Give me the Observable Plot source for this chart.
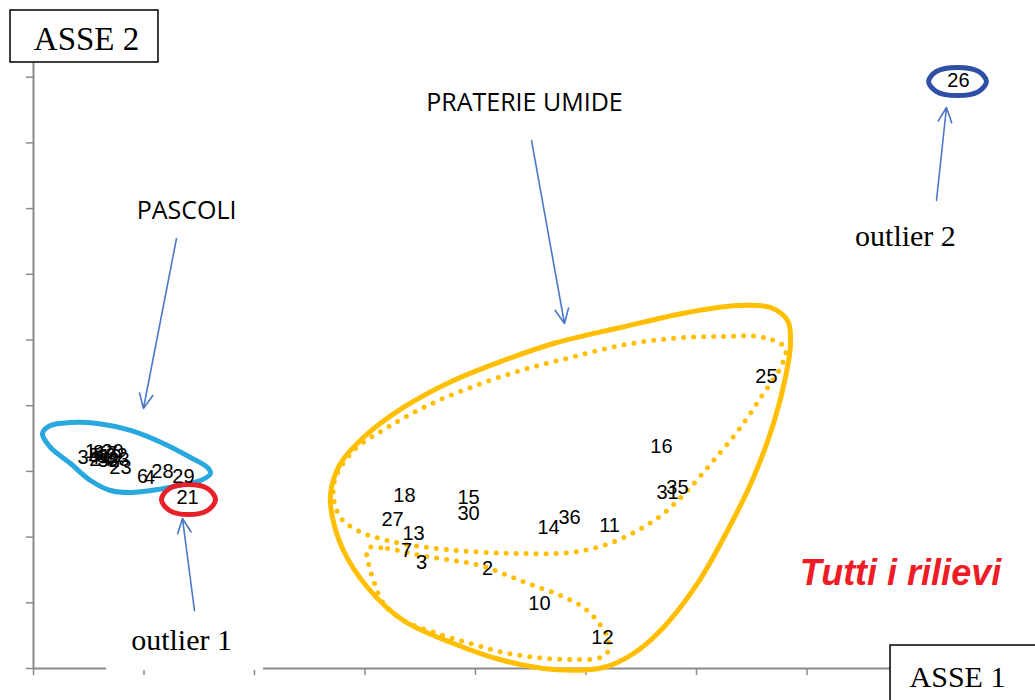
<!DOCTYPE html>
<html>
<head>
<meta charset="utf-8">
<script src="https://cdn.jsdelivr.net/npm/d3@7"></script>
<script src="https://cdn.jsdelivr.net/npm/@observablehq/plot@0.6"></script>
<style>
  html, body { margin: 0; padding: 0; background: #fff; }
  #chart svg { display: block; }
</style>
</head>
<body>
<div id="chart"></div>
<script>
// ---- Data: relevé numbers and their scores on axis 1 / axis 2 ----
const releveLabels = ["1","5","8","9","17","19","20","22","24","32","33","34","23",
  "6","4","28","29","21",
  "18","15","30","27","13","7","3","2","14","36","11","10","12","16","31","35","25","26"];
const asse1 = [0.516,0.552,0.588,0.624,0.661,0.697,0.715,0.751,0.606,0.679,0.769,0.498,0.787,
  0.986,1.050,1.167,1.357,1.394,
  3.357,3.937,3.937,3.249,3.439,3.376,3.511,4.109,4.661,4.851,5.213,4.579,5.149,5.683,5.738,5.828,6.633,8.371];
const asse2 = [3.303,3.242,3.288,3.227,3.272,3.227,3.303,3.242,3.181,3.166,3.181,3.212,3.059,
  2.922,2.907,2.998,2.922,2.603,
  2.633,2.603,2.359,2.268,2.055,1.796,1.613,1.522,2.146,2.298,2.177,0.989,0.472,3.379,2.679,2.755,4.444,8.950];

const xTicks = [0,1,2,3,4,5,6,7,8];
const yTicks = [0,1,2,3,4,5,6,7,8,9];

// ---- Hand-drawn annotation shapes (axis units) ----
const praterieSolidX = [2.688,2.778,2.986,3.348,3.801,4.253,4.706,5.312,5.919,6.371,6.670,6.824,6.851,6.805,6.697,6.516,6.281,6.009,5.701,5.430,5.158,4.706,4.253,3.801,3.348,3.023,2.805,2.706];
const praterieSolidY = [2.664,3.120,3.516,3.973,4.384,4.688,4.947,5.190,5.419,5.525,5.495,5.297,4.947,4.429,3.729,2.907,2.100,1.294,0.624,0.228,0.015,-0.015,0.122,0.381,0.731,1.233,1.796,2.298];
const dotLoopAX = [6.805,6.606,6.217,5.765,5.312,4.860,4.407,3.955,3.566,3.204,2.896,2.733,2.715,2.778,2.932,3.204,3.566,3.955,4.407,4.860,5.158,5.466,5.701,5.919,6.154,6.398,6.606,6.760];
const dotLoopAY = [4.871,5.038,5.053,5.023,4.916,4.734,4.536,4.277,4.003,3.668,3.318,2.907,2.603,2.298,2.100,1.948,1.842,1.781,1.750,1.766,1.872,2.100,2.359,2.709,3.166,3.668,4.186,4.581];
const dotLoopBX = [3.023,3.204,3.502,3.801,4.045,4.290,4.525,4.769,4.977,5.113,5.195,5.204,5.131,4.860,4.561,4.253,3.955,3.656,3.348,3.167,3.077,3.032];
const dotLoopBY = [1.826,1.826,1.720,1.644,1.568,1.416,1.263,1.111,0.928,0.700,0.472,0.274,0.167,0.137,0.167,0.244,0.381,0.533,0.731,0.989,1.339,1.598];
const pascoliX = [0.081,0.154,0.335,0.579,0.878,1.176,1.421,1.575,1.602,1.511,1.303,1.122,0.878,0.697,0.516,0.335,0.154];
const pascoliY = [3.577,3.699,3.744,3.729,3.623,3.425,3.212,3.059,2.968,2.861,2.785,2.725,2.679,2.709,2.861,3.120,3.364];
const outlier1X = [1.647,1.575,1.403,1.231,1.158,1.231,1.403,1.575];
const outlier1Y = [2.572,2.405,2.344,2.405,2.572,2.740,2.801,2.740];
const outlier2X = [8.624,8.552,8.362,8.172,8.100,8.172,8.362,8.552];
const outlier2Y = [8.935,8.782,8.721,8.782,8.935,9.087,9.148,9.087];

// arrows: tail -> head
const arrowX1 = [1.294, 4.507, 1.457, 8.172];
const arrowY1 = [6.545, 8.037, 0.883, 7.123];
const arrowX2 = [0.995, 4.805, 1.348, 8.262];
const arrowY2 = [3.957, 5.251, 2.283, 8.539];

// text annotations
const sansNotes = ["PASCOLI", "PRATERIE UMIDE"];
const sansNoteX = [1.385, 4.443];
const sansNoteY = [6.956, 8.600];
const serifNotes = ["outlier 1", "outlier 2"];
const serifNoteX = [1.340, 7.891];
const serifNoteY = [0.426, 6.575];
const axisTitles = ["ASSE 2", "ASSE 1"];
const axisTitleSize = [33, 30];
const axisTitleX = [0.480, 8.362];
const axisTitleY = [9.574, -0.137];
const axisBoxX1 = [-0.208, 7.756];
const axisBoxX2 = [1.131, 9.113];
const axisBoxY1 = [9.224, -0.563];
const axisBoxY2 = [10.015, 0.350];
const maskBox = {x1: 0.661, x2: 2.081, y1: -0.030, y2: 0.807};
const chartTitle = "Tutti i rilievi";
const chartTitleX = 7.846, chartTitleY = 1.446;

// ---- build tables ----
const pts = (xs, ys) => xs.map((x, i) => ({x, y: ys[i]}));
const releves = releveLabels.map((l, i) => ({label: l, x: asse1[i], y: asse2[i]}));
const arrows = arrowX1.map((x1, i) => ({x1, y1: arrowY1[i], x2: arrowX2[i], y2: arrowY2[i]}));
const sans = sansNotes.map((t, i) => ({t, x: sansNoteX[i], y: sansNoteY[i]}));
const serif = serifNotes.map((t, i) => ({t, x: serifNoteX[i], y: serifNoteY[i]}));
const boxes = axisTitles.map((t, i) => ({t, size: axisTitleSize[i], x: axisTitleX[i], y: axisTitleY[i],
  x1: axisBoxX1[i], x2: axisBoxX2[i], y1: axisBoxY1[i], y2: axisBoxY2[i]}));

const axisGray = "#898989";
const yellow = "#FFBF00";
const serifFont = "'Liberation Serif', 'DejaVu Serif', serif";
const sansFont = "'Liberation Sans', Arial, sans-serif";

const chart = Plot.plot({
  width: 1035,
  height: 700,
  marginLeft: 33,
  marginRight: 7.5,
  marginTop: 11,
  marginBottom: 32,
  x: {domain: [0, 9]},
  y: {domain: [0, 10]},
  style: {background: "#fff"},
  marks: [
    // axes
    Plot.axisX({ticks: xTicks, tickFormat: () => "", tickSize: 7, stroke: axisGray, strokeWidth: 1.5, label: null}),
    Plot.axisY({ticks: yTicks, tickFormat: () => "", tickSize: 7, stroke: axisGray, strokeWidth: 1.5, label: null}),
    Plot.ruleY([0], {x1: 0, x2: 9, stroke: axisGray, strokeWidth: 2}),
    Plot.ruleX([0], {y1: 0, y2: 9.6, stroke: axisGray, strokeWidth: 2}),
    // shapes
    Plot.line(pts(praterieSolidX, praterieSolidY), {x: "x", y: "y", curve: "catmull-rom-closed", stroke: yellow, strokeWidth: 5}),
    Plot.line(pts(dotLoopAX, dotLoopAY), {x: "x", y: "y", curve: "catmull-rom-closed", stroke: yellow, strokeWidth: 5, strokeDasharray: "0 10", strokeLinecap: "round"}),
    Plot.line(pts(dotLoopBX, dotLoopBY), {x: "x", y: "y", curve: "catmull-rom-closed", stroke: yellow, strokeWidth: 5, strokeDasharray: "0 10", strokeLinecap: "round"}),
    Plot.line(pts(pascoliX, pascoliY), {x: "x", y: "y", curve: "catmull-rom-closed", stroke: "#29A8E0", strokeWidth: 5}),
    Plot.line(pts(outlier1X, outlier1Y), {x: "x", y: "y", curve: "catmull-rom-closed", stroke: "#E8202A", strokeWidth: 5}),
    Plot.line(pts(outlier2X, outlier2Y), {x: "x", y: "y", curve: "catmull-rom-closed", stroke: "#2F4FA6", strokeWidth: 5}),
    // relevé labels
    Plot.text(releves, {x: "x", y: "y", text: "label", fill: "#000", fontSize: 20, fontFamily: sansFont}),
    // arrows
    Plot.arrow(arrows, {x1: "x1", y1: "y1", x2: "x2", y2: "y2", stroke: "#4A78C6", strokeWidth: 1.6, headLength: 15, headAngle: 50, bend: 0}),
    // white mask under "outlier 1"
    Plot.rect([maskBox], {x1: "x1", x2: "x2", y1: "y1", y2: "y2", fill: "#fff"}),
    // axis title boxes
    Plot.rect(boxes, {x1: "x1", x2: "x2", y1: "y1", y2: "y2", fill: "#fff", stroke: "#000", strokeWidth: 1.5}),
    Plot.text(boxes, {x: "x", y: "y", text: "t", fontSize: "size", fontFamily: serifFont, fill: "#000"}),
    // notes
    Plot.text(sans, {x: "x", y: "y", text: "t", fontSize: 25, fontFamily: "'Open Sans', sans-serif", fill: "#000"}),
    Plot.text(serif, {x: "x", y: "y", text: "t", fontSize: 30, fontFamily: serifFont, fill: "#000"}),
    Plot.text([chartTitle], {x: chartTitleX, y: chartTitleY, text: d => d, fontSize: 36, fontWeight: "bold", fontStyle: "italic", fontFamily: sansFont, fill: "#EE1C25"})
  ]
});
document.getElementById("chart").append(chart);
</script>
</body>
</html>
